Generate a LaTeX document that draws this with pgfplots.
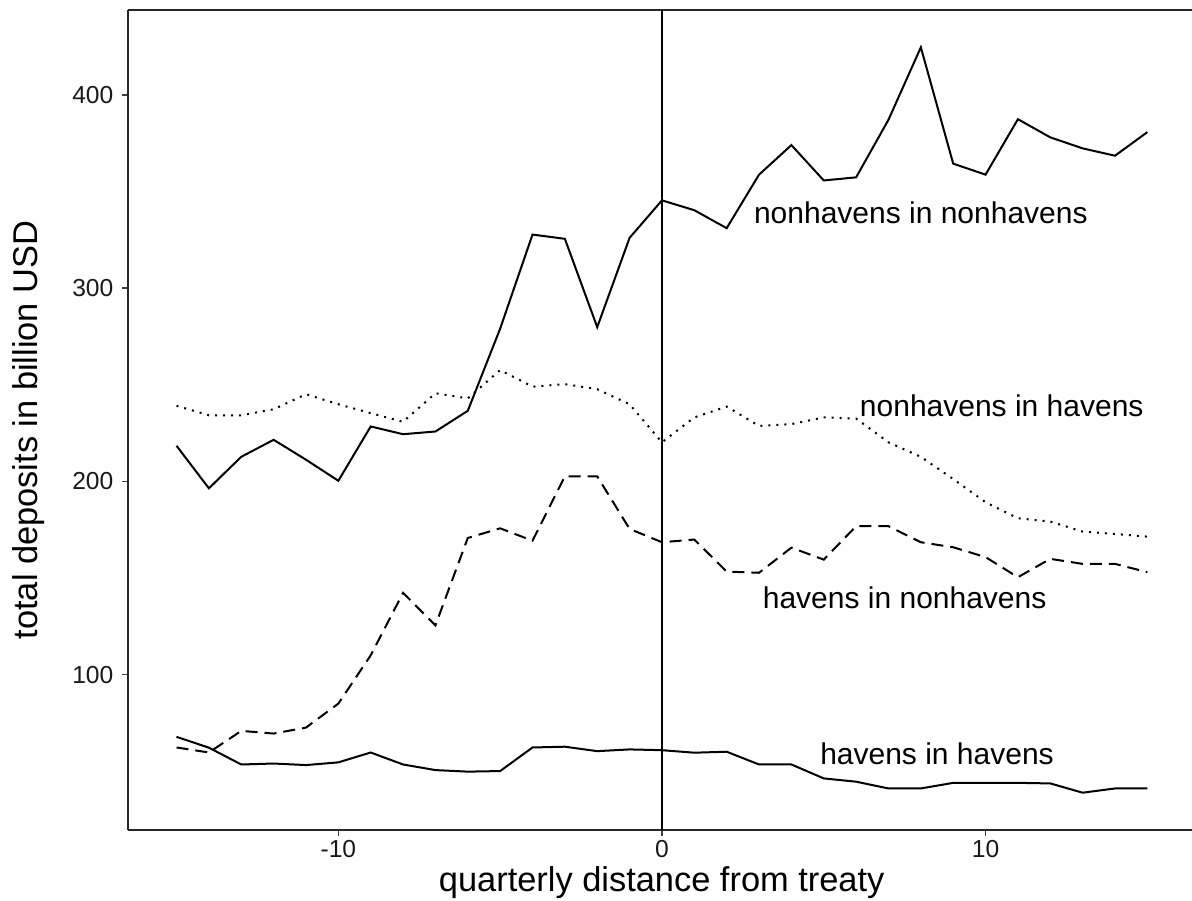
\documentclass[border=0pt]{standalone}
\usepackage{pgfplots}
\pgfplotsset{compat=1.18}
\usepackage{fontspec}
\setmainfont{Liberation Sans}
\begin{document}
\begin{tikzpicture}
\begin{axis}[name=ax, at={(0,0)}, anchor=south west,
  scale only axis, width=532pt, height=410pt,
  xmin=-16.5, xmax=16.38, ymin=19.6, ymax=443.9,
  axis x line*=box, axis y line*=left,
  axis line style={-, line width=0.75pt, black!85},
  tick pos=left, tick align=outside, major tick length=2.8pt,
  tick style={line width=0.75pt, black!75},
  xtick={-10,0,10}, xticklabels={-10,0,10},
  ytick={100,200,300,400}, yticklabels={100,200,300,400},
  tick label style={font=\fontsize{12.3pt}{14pt}\selectfont, text=black!90},
  xticklabel style={yshift=-1pt, inner sep=1pt},
  yticklabel style={xshift=-1pt},
  clip=false,
]
\addplot[black, line width=1pt] coordinates {
(-15,218.4) (-14,196.4) (-13,212.7) (-12,221.5) (-11,211.2) (-10,200.3) (-9,228.4) (-8,224.4) (-7,225.8) (-6,236.5) (-5,279) (-4,327.7) (-3,325.5) (-2,279.8) (-1,326) (0,345.4) (1,340.3) (2,331) (3,358.7) (4,374) (5,355.7) (6,357.3) (7,387.1) (8,424.6) (9,364.4) (10,358.7) (11,387.4) (12,378) (13,372.3) (14,368.5) (15,380.7)};
\addplot[black, line width=1pt, dash pattern=on 1pt off 3pt] coordinates {
(-15,239.1) (-14,234.2) (-13,234.2) (-12,237.3) (-11,245.1) (-10,239.9) (-9,235.3) (-8,230.8) (-7,245.6) (-6,242.9) (-5,257.6) (-4,249) (-3,250.3) (-2,247.7) (-1,239.9) (0,220.2) (1,233.1) (2,238.7) (3,228.7) (4,229.6) (5,233.1) (6,232.5) (7,220.2) (8,212.7) (9,201.2) (10,189.2) (11,180.9) (12,179.2) (13,174) (14,172.8) (15,171.4)};
\addplot[black, line width=1pt, dash pattern=on 6pt off 3.5pt] coordinates {
(-15,62.3) (-14,59.7) (-13,70.9) (-12,69.5) (-11,72.6) (-10,85) (-9,110) (-8,142.3) (-7,125.5) (-6,170.7) (-5,175.7) (-4,169.3) (-3,202.6) (-2,202.6) (-1,175.4) (0,168.5) (1,169.9) (2,153.3) (3,152.7) (4,165.7) (5,159.5) (6,176.8) (7,176.8) (8,168.5) (9,165.9) (10,160.8) (11,150.4) (12,159.9) (13,157.3) (14,157.3) (15,153)};
\addplot[black, line width=1pt] coordinates {
(-15,67.8) (-14,62.2) (-13,53.5) (-12,54) (-11,53.2) (-10,54.6) (-9,59.7) (-8,53.5) (-7,50.6) (-6,49.8) (-5,50.1) (-4,62.3) (-3,62.7) (-2,60.4) (-1,61.3) (0,60.9) (1,59.6) (2,60.1) (3,53.5) (4,53.5) (5,46.3) (6,44.6) (7,41.1) (8,41.1) (9,44) (10,44) (11,44) (12,43.7) (13,38.9) (14,41.1) (15,41.1)};
\addplot[black, line width=0.75pt] coordinates {(0,19.6) (0,443.9)};
\node[font=\fontsize{15pt}{17pt}\selectfont] at (axis cs:8,339) {nonhavens in nonhavens};
\node[font=\fontsize{15pt}{17pt}\selectfont] at (axis cs:10.5,239) {nonhavens in havens};
\node[font=\fontsize{15pt}{17pt}\selectfont] at (axis cs:7.5,140) {havens in nonhavens};
\node[font=\fontsize{15pt}{17pt}\selectfont] at (axis cs:8.5,59) {havens in havens};
\end{axis}
\node[font=\fontsize{17.2pt}{20pt}\selectfont, anchor=base, inner sep=1pt] at (266.85pt,-30.8pt) {quarterly distance from treaty};
\node[font=\fontsize{17.2pt}{20pt}\selectfont, rotate=90, anchor=base] at (-45.5pt,200pt) {total deposits in billion USD};
\pgfresetboundingbox
\path (-64pt,-35pt) rectangle (532pt,415pt);
\end{tikzpicture}
\end{document}
